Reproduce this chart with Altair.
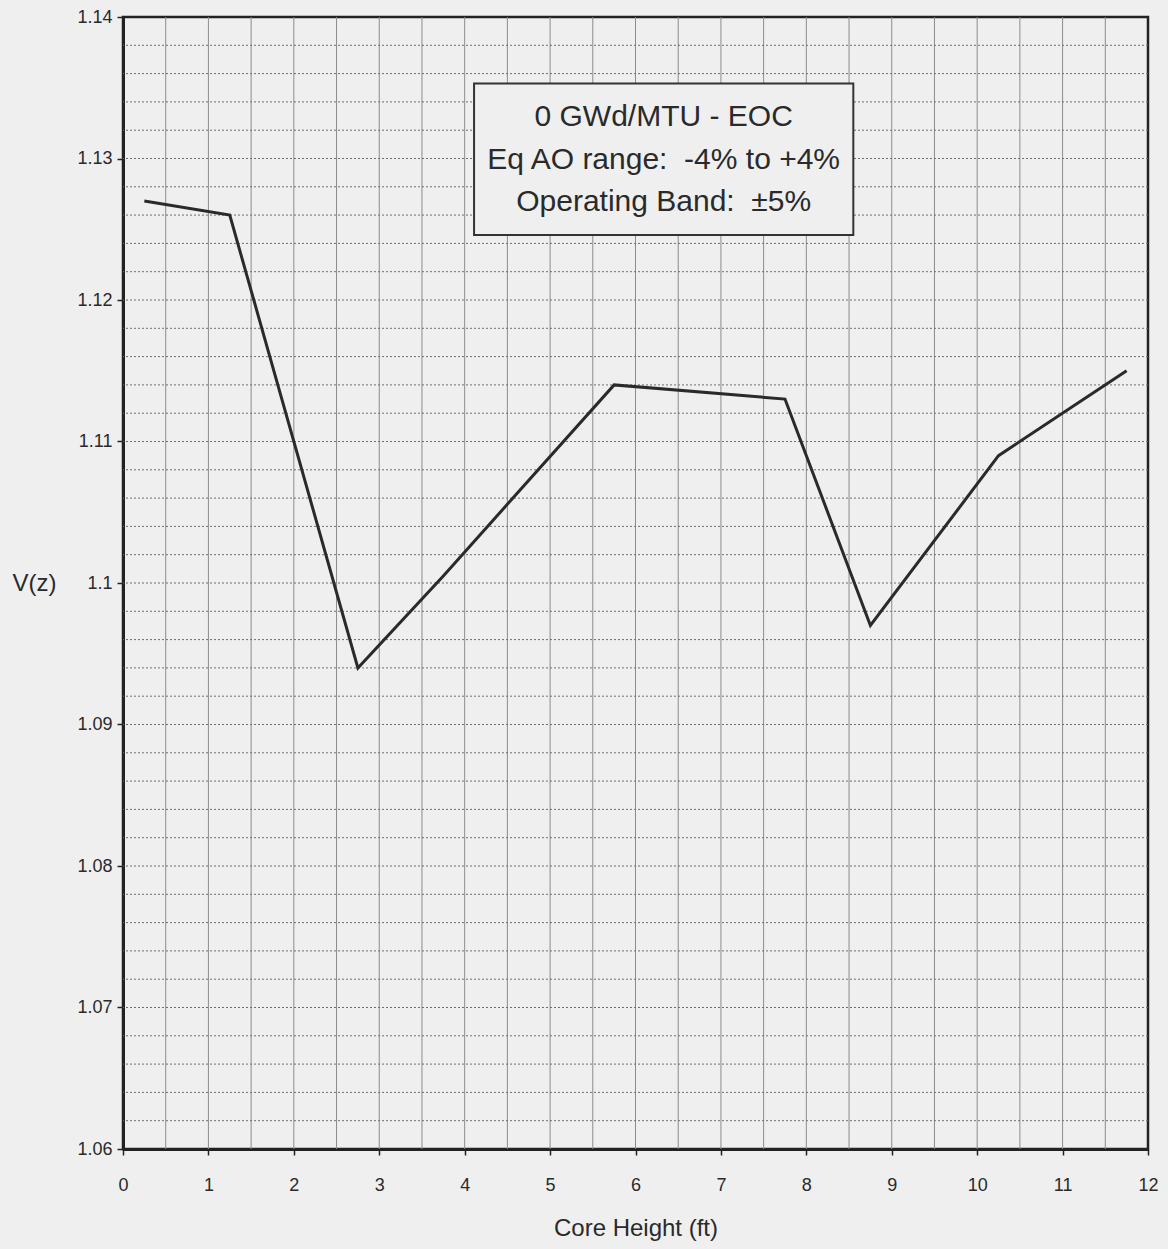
import altair as alt
import pandas as pd

# V(z) profile along the core height
core_height_ft = [0.25, 1.25, 2.75, 3.75, 5.75, 7.75, 8.75, 10.25, 11.75]
vz_values = [1.127, 1.126, 1.094, 1.1005, 1.114, 1.113, 1.097, 1.109, 1.115]

x_ticks = list(range(0, 13))
y_ticks = [1.06, 1.07, 1.08, 1.09, 1.10, 1.11, 1.12, 1.13, 1.14]

# graph-paper grid: vertical every 0.5 ft, horizontal every 0.002
x_grid = [i * 0.5 for i in range(1, 24)]
y_grid = [round(1.06 + i * 0.002, 3) for i in range(1, 40)]

# annotation box and its lines
box_x = [4.11, 8.55]
box_y = [1.1246, 1.1353]
note_lines = [
    "0 GWd/MTU - EOC",
    "Eq AO range:\u00a0 -4% to +4%",
    "Operating Band:\u00a0 \u00b15%",
]
note_x = [6.33, 6.33, 6.33]
note_y = [1.1329, 1.1299, 1.1269]

BG = "#efefef"
INK = "#2a2a2a"
FONT = "Liberation Sans"

xs = alt.Scale(domain=[0, 12], nice=False, zero=False)
ys = alt.Scale(domain=[1.06, 1.14], nice=False, zero=False)

profile = pd.DataFrame({"h": core_height_ft, "v": vz_values})

vgrid = alt.Chart(pd.DataFrame({"x": x_grid})).mark_rule(
    color="#8c8c8c", strokeWidth=1
).encode(x=alt.X("x:Q", scale=xs))

hgrid = alt.Chart(pd.DataFrame({"y": y_grid})).mark_rule(
    color="#6e6e6e", strokeWidth=1, strokeDash=[2, 2]
).encode(y=alt.Y("y:Q", scale=ys))

line = alt.Chart(profile).mark_line(color=INK, strokeWidth=3).encode(
    x=alt.X(
        "h:Q",
        scale=xs,
        axis=alt.Axis(
            values=x_ticks,
            format="d",
            title="Core Height (ft)",
            grid=False,
            tickSize=6,
            labelPadding=21,
            labelFlush=False,
            titlePadding=22,
            titleFontSize=24,
        ),
    ),
    y=alt.Y(
        "v:Q",
        scale=ys,
        axis=alt.Axis(
            values=y_ticks,
            format="~g",
            title="V(z)",
            grid=False,
            tickSize=6,
            labelPadding=5,
            labelFlush=False,
            titleAngle=0,
            titleAlign="center",
            titleBaseline="middle",
            titleX=-89,
            titleY=566,
            titleFontSize=24,
        ),
    ),
)

box = alt.Chart(pd.DataFrame({"x": [box_x[0]], "x2": [box_x[1]], "y": [box_y[0]], "y2": [box_y[1]]})).mark_rect(
    fill=BG, stroke="#333333", strokeWidth=2
).encode(
    x=alt.X("x:Q", scale=xs),
    x2="x2:Q",
    y=alt.Y("y:Q", scale=ys),
    y2="y2:Q",
)

notes = alt.Chart(pd.DataFrame({"t": note_lines, "x": note_x, "y": note_y})).mark_text(
    font=FONT, fontSize=30, color=INK, align="center", baseline="middle"
).encode(
    x=alt.X("x:Q", scale=xs),
    y=alt.Y("y:Q", scale=ys),
    text="t:N",
)

chart = (
    alt.layer(vgrid, hgrid, line, box, notes)
    .properties(
        width=1025,
        height=1132,
        background=BG,
        padding={"left": 123, "top": 17, "right": 20, "bottom": 100},
        autosize=alt.AutoSizeParams(type="none"),
    )
    .configure_view(stroke="#222222", strokeWidth=2.5)
    .configure_axis(
        labelFont=FONT,
        titleFont=FONT,
        labelFontSize=18,
        labelColor=INK,
        titleColor=INK,
        titleFontWeight="normal",
        domainColor="#222222",
        domainWidth=3,
        tickColor="#222222",
        tickWidth=1.5,
    )
)

chart.save("out.html", embed_options={"renderer": "svg", "actions": False})
